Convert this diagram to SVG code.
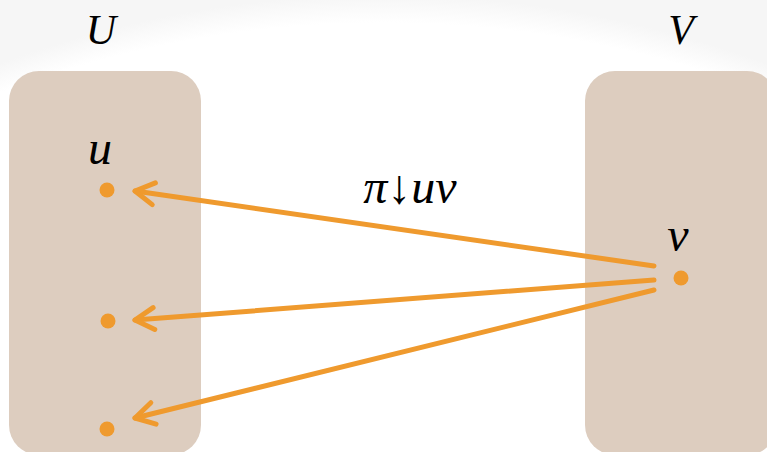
<svg xmlns="http://www.w3.org/2000/svg" width="767" height="452" viewBox="0 0 767 452">
  <defs>
    <style>
      .box { fill: #ddcdbf; }
      .dot { fill: #ef9a2e; }
      .edge { stroke: #ef9a2e; stroke-width: 5; fill: none; stroke-linecap: round; }
      .lbl { font-family: "Liberation Serif", "DejaVu Serif", serif; font-style: italic; fill: #000; }
    </style>
    <radialGradient id="bg" cx="383" cy="1105" r="1110" gradientUnits="userSpaceOnUse">
      <stop offset="0.975" stop-color="#ffffff"/>
      <stop offset="1" stop-color="#f6f6f6"/>
    </radialGradient>
    <marker id="head" viewBox="-26 -16 32 32" refX="0" refY="0" markerWidth="32" markerHeight="32" markerUnits="userSpaceOnUse" orient="auto">
      <path d="M -19 -11 L 0 0 L -19 11" fill="none" stroke="#ef9a2e" stroke-width="5" stroke-linecap="round" stroke-linejoin="round"/>
    </marker>
  </defs>
  <rect x="0" y="0" width="767" height="452" fill="url(#bg)"/>

  <g id="setU">
    <rect class="box" x="9" y="71" width="192" height="384" rx="30" ry="30"/>
    <text class="lbl" x="101" y="44" font-size="42" text-anchor="middle">U</text>
  </g>
  <g id="setV">
    <rect class="box" x="585" y="71" width="192" height="384" rx="30" ry="30"/>
    <text class="lbl" x="681" y="44" font-size="42" text-anchor="middle">V</text>
  </g>

  <g id="node-u">
    <circle class="dot" cx="107" cy="190" r="7.5"/>
    <text class="lbl" x="100" y="164" font-size="48" text-anchor="middle">u</text>
  </g>
  <g id="node-u2">
    <circle class="dot" cx="108" cy="321" r="7.5"/>
  </g>
  <g id="node-u3">
    <circle class="dot" cx="107" cy="429" r="7.5"/>
  </g>
  <g id="node-v">
    <circle class="dot" cx="681" cy="278" r="7.5"/>
    <text class="lbl" x="678" y="251" font-size="48" text-anchor="middle">v</text>
  </g>

  <g id="connectors">
    <line class="edge" x1="654" y1="266" x2="135" y2="191" marker-end="url(#head)"/>
    <line class="edge" x1="654" y1="280" x2="135" y2="320" marker-end="url(#head)"/>
    <line class="edge" x1="654" y1="290" x2="135" y2="418" marker-end="url(#head)"/>
    <text class="lbl" x="410" y="203" font-size="48" text-anchor="middle">π↓uv</text>
  </g>
</svg>
